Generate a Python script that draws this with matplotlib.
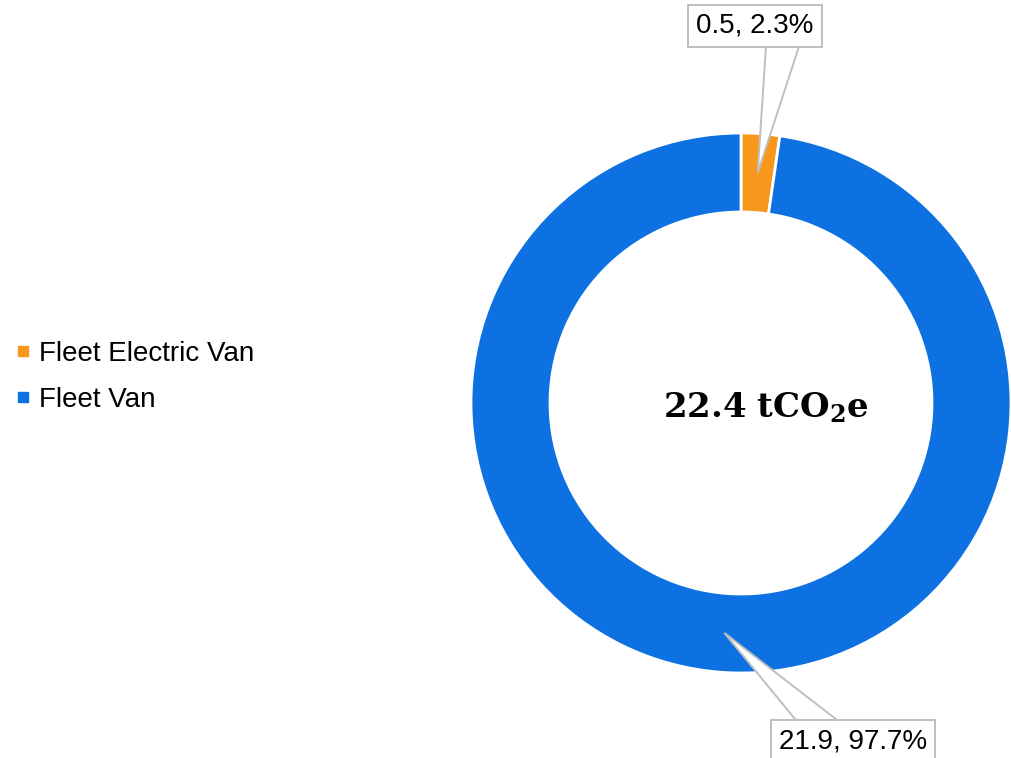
import numpy as np
import matplotlib
matplotlib.use('Agg')
import matplotlib.pyplot as plt
from matplotlib.patches import Polygon
from matplotlib.lines import Line2D

# data
names = ['Fleet Electric Van', 'Fleet Van']
values = [0.5, 21.9]
shares = [2.3, 97.7]
total = 22.4
colors = ['#F7981D', '#0E71E2']

plt.rcParams['font.family'] = ['Liberation Sans', 'DejaVu Sans']
plt.rcParams['mathtext.fontset'] = 'dejavuserif'

fig = plt.figure(figsize=(10.12, 7.58), dpi=100)
ax = fig.add_axes([0, 0, 1, 1])

# donut geometry in pixel-like data units
cx, cy, R, W = 741, 355, 270, 79
wedges, _ = ax.pie(shares, colors=colors, startangle=90, counterclock=False,
                   center=(cx, cy), radius=R,
                   wedgeprops=dict(width=W, edgecolor='white', linewidth=2))
ax.set_xlim(0, 1012)
ax.set_ylim(0, 758)
ax.axis('off')

# callout boxes: box centre, half height, pointer base offsets
callouts = [((755, 732), -20.5, (11, 44)),
            ((853, 17), 19.5, (-56, -14))]
for w, v, s, (box, hh, offs) in zip(wedges, values, shares, callouts):
    mid = np.deg2rad((w.theta1 + w.theta2) / 2)
    tip = (cx + (R - W / 2) * np.cos(mid), cy + (R - W / 2) * np.sin(mid))
    base_y = box[1] + hh
    poly = Polygon([(box[0] + offs[0], base_y), tip, (box[0] + offs[1], base_y)],
                   closed=True, fc='white', ec='#BFBFBF', lw=1.4, zorder=4)
    ax.add_patch(poly)
    ax.text(box[0], box[1], f"{v}, {s}%", ha='center', va='center', fontsize=20,
            zorder=5,
            bbox=dict(boxstyle='square,pad=0.3', fc='white', ec='#BFBFBF', lw=1.4))

ax.text(766, cy - 5, r'$\mathbf{%s\ tCO_2e}$' % total, ha='center', va='center',
        fontsize=24.5, color='black')

handles = [Line2D([], [], marker='s', ls='none', color=c, markersize=7) for c in colors]
ax.legend(handles, names, loc='center left', bbox_to_anchor=(0.013, 0.503),
          frameon=False, fontsize=20, borderaxespad=0, borderpad=0,
          handlelength=0.7, handletextpad=0.22, labelspacing=0.72)

fig.savefig('out.png', dpi=100)
